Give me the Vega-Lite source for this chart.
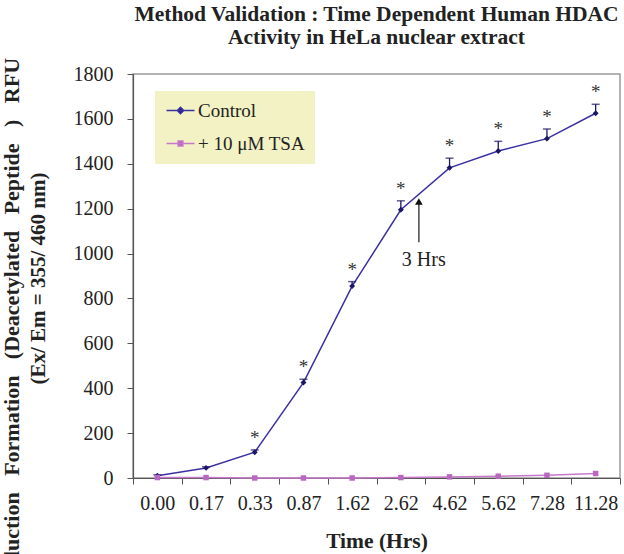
{
  "$schema": "https://vega.github.io/schema/vega-lite/v6.json",
  "width": 487,
  "height": 404,
  "autosize": "none",
  "padding": {"left": 133, "top": 74, "right": 4, "bottom": 76},
  "background": "white",
  "config": {
    "font": "Liberation Serif",
    "view": {"stroke": "#9a9a9a", "strokeWidth": 1.5},
    "axis": {"grid": false, "labelFont": "Liberation Serif", "titleFont": "Liberation Serif", "labelColor": "#222", "titleColor": "#222", "domainColor": "#555", "tickColor": "#555", "domainWidth": 1.2}
  },
  "title": {
    "text": ["Method Validation :  Time Dependent Human HDAC", "Activity in HeLa nuclear extract"],
    "font": "Liberation Serif",
    "fontSize": 21.5,
    "fontWeight": "bold",
    "color": "#222",
    "anchor": "middle",
    "offset": 9,
    "lineHeight": 23
  },
  "resolve": {"axis": {"y": "independent"}},
  "datasets": {
    "main": [
      {"time": "0.00", "series": "Control", "value": 10, "upper": 14, "star": ""},
      {"time": "0.17", "series": "Control", "value": 45, "upper": 50, "star": ""},
      {"time": "0.33", "series": "Control", "value": 115, "upper": 125, "star": "*"},
      {"time": "0.87", "series": "Control", "value": 425, "upper": 440, "star": "*"},
      {"time": "1.62", "series": "Control", "value": 855, "upper": 875, "star": "*"},
      {"time": "2.62", "series": "Control", "value": 1195, "upper": 1235, "star": "*"},
      {"time": "4.62", "series": "Control", "value": 1382, "upper": 1425, "star": "*"},
      {"time": "5.62", "series": "Control", "value": 1457, "upper": 1500, "star": "*"},
      {"time": "7.28", "series": "Control", "value": 1512, "upper": 1555, "star": "*"},
      {"time": "11.28", "series": "Control", "value": 1625, "upper": 1665, "star": "*"},
      {"time": "0.00", "series": "+ 10 μM TSA", "value": 2, "upper": 2, "star": ""},
      {"time": "0.17", "series": "+ 10 μM TSA", "value": 2, "upper": 2, "star": ""},
      {"time": "0.33", "series": "+ 10 μM TSA", "value": 0, "upper": 0, "star": ""},
      {"time": "0.87", "series": "+ 10 μM TSA", "value": 0, "upper": 0, "star": ""},
      {"time": "1.62", "series": "+ 10 μM TSA", "value": 0, "upper": 0, "star": ""},
      {"time": "2.62", "series": "+ 10 μM TSA", "value": 2, "upper": 2, "star": ""},
      {"time": "4.62", "series": "+ 10 μM TSA", "value": 5, "upper": 5, "star": ""},
      {"time": "5.62", "series": "+ 10 μM TSA", "value": 8, "upper": 8, "star": ""},
      {"time": "7.28", "series": "+ 10 μM TSA", "value": 12, "upper": 12, "star": ""},
      {"time": "11.28", "series": "+ 10 μM TSA", "value": 20, "upper": 20, "star": ""}
    ],
    "note": [
      {"time": "2.62", "y": 1050, "y2": 1225, "tip": 1232, "label": "3 Hrs", "labelY": 971}
    ]
  },
  "encoding": {
    "x": {
      "field": "time",
      "type": "ordinal",
      "sort": null,
      "scale": {"type": "band", "paddingInner": 0, "paddingOuter": 0},
      "axis": {
        "title": "Time (Hrs)",
        "titleFontSize": 21.5,
        "titleFontWeight": "bold",
        "titleY": 52,
        "labelAngle": 0,
        "labelFontSize": 20,
        "labelPadding": 9,
        "tickBand": "extent",
        "tickSize": 6
      }
    }
  },
  "layer": [
    {
      "data": {"name": "main"},
      "mark": {"type": "line", "strokeWidth": 1.5},
      "encoding": {
        "y": {
          "field": "value",
          "type": "quantitative",
          "scale": {"domain": [0, 1800]},
          "axis": {
            "values": [0, 200, 400, 600, 800, 1000, 1200, 1400, 1600, 1800],
            "format": "d",
            "title": "Production\u00a0\u00a0 Formation\u00a0\u00a0 (Deacetylated\u00a0\u00a0 Peptide\u00a0\u00a0 )\u00a0\u00a0 RFU",
            "titleFontSize": 22,
            "titleFontWeight": "bold",
            "titleX": -132,
            "titleY": 253,
            "titleBaseline": "top",
            "titleAngle": -90,
            "titleLimit": 800,
            "labelFontSize": 20,
            "labelPadding": 14,
            "tickSize": 6
          }
        },
        "color": {
          "field": "series",
          "type": "nominal",
          "sort": null,
          "scale": {"domain": ["Control", "+ 10 μM TSA"], "range": ["#3a31a0", "#c878c8"]},
          "legend": {
            "title": null,
            "orient": "none",
            "legendX": 22,
            "legendY": 17,
            "fillColor": "#f2f2c4",
            "padding": 10,
            "labelFont": "Liberation Serif",
            "labelFontSize": 19,
            "labelColor": "#222",
            "rowPadding": 13,
            "symbolSize": 256,
            "labelOffset": 14,
            "encode": {
              "symbols": {
                "update": {
                  "shape": {"signal": "datum.value === 'Control' ? 'M-1,0H2.5M0.75,-0.4L1.15,0L0.75,0.4L0.35,0Z' : 'M-1,0H2.5M0.45,-0.3H1.05V0.3H0.45Z'"},
                  "fill": {"signal": "datum.value === 'Control' ? '#1c1666' : '#b060b8'"},
                  "stroke": {"signal": "datum.value === 'Control' ? '#3a31a0' : '#c878c8'"},
                  "strokeWidth": {"value": 1.5},
                  "opacity": {"value": 1}
                }
              }
            }
          }
        }
      }
    },
    {
      "data": {"name": "main"},
      "transform": [{"filter": "datum.series === 'Control'"}],
      "mark": {"type": "rule", "color": "#1c1666", "strokeWidth": 1.3},
      "encoding": {
        "y": {
          "field": "value",
          "type": "quantitative",
          "axis": {
            "orient": "left",
            "title": "(Ex/ Em = 355/ 460 nm)",
            "titleFontSize": 21,
            "titleFontWeight": "bold",
            "titleX": -106,
            "titleY": 204,
            "titleBaseline": "top",
            "titleAngle": -90,
            "labels": false,
            "ticks": false,
            "domain": false,
            "grid": false
          }
        },
        "y2": {"field": "upper"}
      }
    },
    {
      "data": {"name": "main"},
      "transform": [{"filter": "datum.series === 'Control'"}],
      "mark": {"type": "tick", "color": "#1c1666", "size": 8, "thickness": 1.5},
      "encoding": {
        "y": {"field": "upper", "type": "quantitative", "axis": null}
      }
    },
    {
      "data": {"name": "main"},
      "transform": [{"filter": "datum.series === 'Control'"}],
      "mark": {"type": "point", "shape": "diamond", "filled": true, "opacity": 1, "size": 35, "color": "#1c1666"},
      "encoding": {
        "y": {"field": "value", "type": "quantitative", "axis": null}
      }
    },
    {
      "data": {"name": "main"},
      "transform": [{"filter": "datum.series !== 'Control'"}],
      "mark": {"type": "point", "shape": "square", "filled": true, "opacity": 1, "size": 30, "color": "#b868c0"},
      "encoding": {
        "y": {"field": "value", "type": "quantitative", "axis": null}
      }
    },
    {
      "data": {"name": "main"},
      "transform": [{"filter": "datum.star === '*'"}],
      "mark": {"type": "text", "fontSize": 19, "font": "Liberation Serif", "color": "#333", "baseline": "middle", "dy": -12},
      "encoding": {
        "y": {"field": "upper", "type": "quantitative", "axis": null},
        "text": {"field": "star"}
      }
    },
    {
      "data": {"name": "note"},
      "mark": {"type": "rule", "color": "#444", "strokeWidth": 1.5},
      "encoding": {
        "x": {"field": "time", "type": "ordinal", "bandPosition": 0.87},
        "y": {"field": "y", "type": "quantitative", "axis": null},
        "y2": {"field": "y2"}
      }
    },
    {
      "data": {"name": "note"},
      "mark": {"type": "point", "shape": "triangle-up", "filled": true, "color": "#111", "size": 60, "opacity": 1},
      "encoding": {
        "x": {"field": "time", "type": "ordinal", "bandPosition": 0.87},
        "y": {"field": "tip", "type": "quantitative", "axis": null}
      }
    },
    {
      "data": {"name": "note"},
      "mark": {"type": "text", "fontSize": 20, "font": "Liberation Serif", "color": "#222", "baseline": "middle", "align": "center"},
      "encoding": {
        "x": {"field": "time", "type": "ordinal", "bandPosition": 0.97},
        "y": {"field": "labelY", "type": "quantitative", "axis": null},
        "text": {"field": "label"}
      }
    }
  ]
}
